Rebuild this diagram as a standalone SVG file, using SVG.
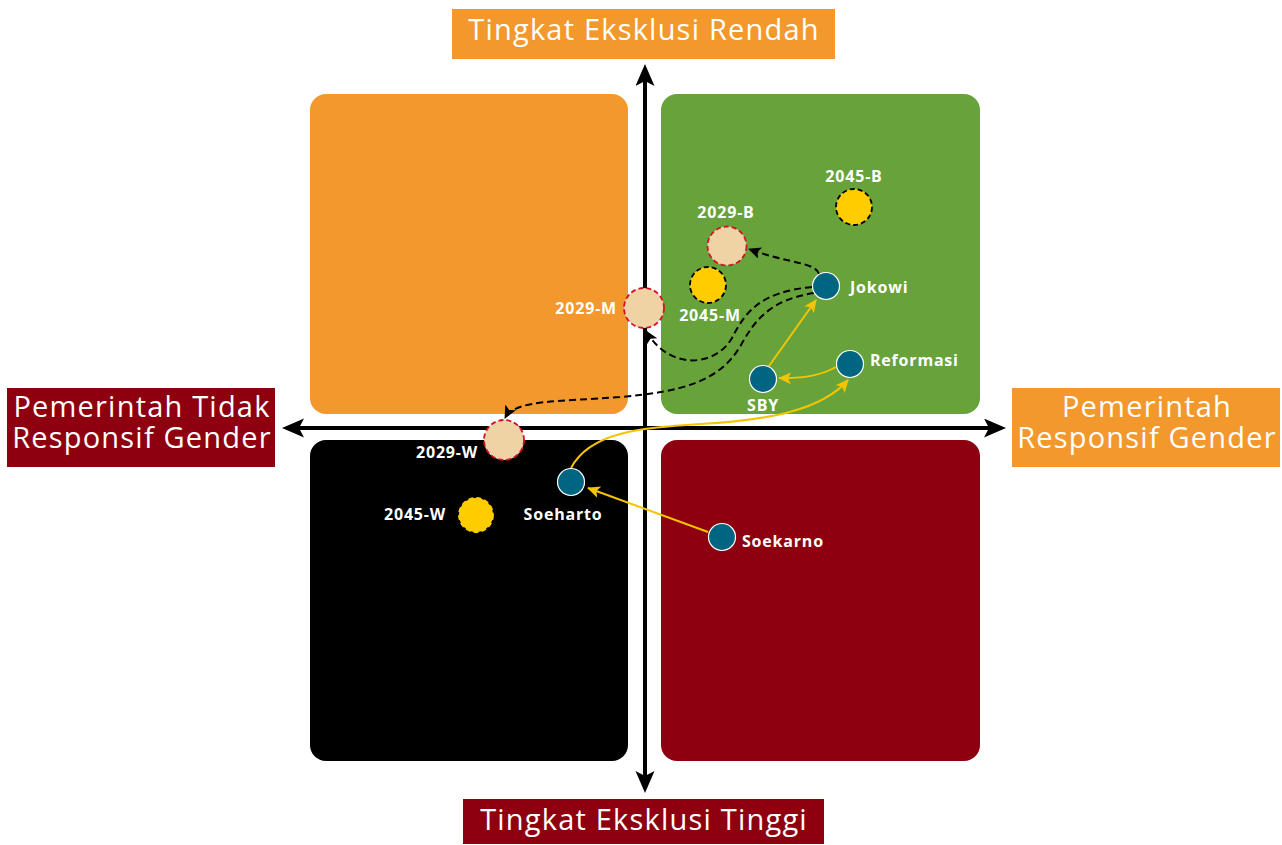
<svg xmlns="http://www.w3.org/2000/svg" width="1282" height="845" viewBox="0 0 1282 845">
<style>
.q{stroke:none}
.axis{stroke:#000;stroke-width:4;fill:none}
.big{font-family:"Open Sans","Liberation Sans",sans-serif;font-size:29px;letter-spacing:1.2px;fill:#fff}
.lbl{font-family:"Open Sans","Liberation Sans",sans-serif;font-size:16px;font-weight:700;letter-spacing:0.8px;fill:#fff}
.now{fill:#006580;stroke:#fff;stroke-width:1.2}
.f29{fill:#F0D3A5;stroke:#D7102A;stroke-width:1.8;stroke-dasharray:5 3}
.f45{fill:#FFCC00;stroke:#000;stroke-width:1.8;stroke-dasharray:5 3}
.yel{stroke:#F5C400;stroke-width:2;fill:none;marker-end:url(#ya)}
.dash{stroke:#000;stroke-width:2;fill:none;stroke-dasharray:7 4;marker-end:url(#ba)}
</style>
<defs>
<marker id="ah" markerUnits="userSpaceOnUse" markerWidth="26" markerHeight="22" refX="6" refY="9.5" orient="auto-start-reverse" viewBox="0 0 26 22">
<path d="M0,0 L22,9.5 L0,19 L5,9.5 z" fill="#000"/>
</marker>
<marker id="ya" markerUnits="userSpaceOnUse" markerWidth="16" markerHeight="14" refX="12" refY="6" orient="auto" viewBox="0 0 16 14">
<path d="M0,0 L13,6 L0,12 L3,6 z" fill="#F5C400"/>
</marker>
<marker id="ba" markerUnits="userSpaceOnUse" markerWidth="16" markerHeight="14" refX="12" refY="6" orient="auto" viewBox="0 0 16 14">
<path d="M0,0 L13,6 L0,12 L3,6 z" fill="#000"/>
</marker>
</defs>
<rect width="1282" height="845" fill="#fff"/>

<g id="quadrants">
<rect id="q-tl" class="q" x="310" y="94" width="318" height="320" rx="16" fill="#F3982C"/>
<rect id="q-tr" class="q" x="661" y="94" width="319" height="320" rx="16" fill="#68A23B"/>
<rect id="q-bl" class="q" x="310" y="440" width="318" height="321" rx="16" fill="#000"/>
<rect id="q-br" class="q" x="661" y="440" width="319" height="321" rx="16" fill="#8E000F"/>
</g>

<g id="axes">
<line class="axis" x1="645" y1="80" x2="645" y2="777" marker-start="url(#ah)" marker-end="url(#ah)"/>
<line class="axis" x1="298" y1="428" x2="990" y2="428" marker-start="url(#ah)" marker-end="url(#ah)"/>
</g>

<g id="label-top">
<rect x="452" y="9" width="383" height="50" fill="#F3982C"/>
<text class="big" x="644" y="40" text-anchor="middle">Tingkat Eksklusi Rendah</text>
</g>
<g id="label-bottom">
<rect x="463" y="799" width="361" height="45" fill="#8E000F"/>
<text class="big" x="644" y="830" text-anchor="middle">Tingkat Eksklusi Tinggi</text>
</g>
<g id="label-left">
<rect x="7" y="388" width="268" height="79" fill="#8E000F"/>
<text class="big" x="142" y="417" text-anchor="middle">Pemerintah Tidak</text>
<text class="big" x="142" y="448" text-anchor="middle">Responsif Gender</text>
</g>
<g id="label-right">
<rect x="1012" y="388" width="268" height="79" fill="#F3982C"/>
<text class="big" x="1147" y="417" text-anchor="middle">Pemerintah</text>
<text class="big" x="1147" y="448" text-anchor="middle">Responsif Gender</text>
</g>

<g id="connectors">
<path class="yel" d="M708,532 L588,488"/>
<path class="yel" d="M571,468 C590,432 640,428 700,424 C770,420 822,410 848,380"/>
<path class="yel" d="M836,367 Q815,379 779,378"/>
<path class="yel" d="M769,366 L816,300"/>
<path class="dash" d="M819,274 C815,262 790,264 749,249"/>
<path class="dash" d="M812,287 C762,292 746,310 732,338 C716,366 670,372 646,331"/>
<path class="dash" d="M814,293 C770,300 755,320 741,345 C720,382 680,392 620,397 C560,402 515,399 505,418"/>
</g>

<g id="node-jokowi"><circle class="now" cx="826" cy="286" r="13.5"/><text class="lbl" x="850" y="293">Jokowi</text></g>
<g id="node-reformasi"><circle class="now" cx="850" cy="364" r="13.5"/><text class="lbl" x="870" y="366">Reformasi</text></g>
<g id="node-sby"><circle class="now" cx="763" cy="379" r="13.5"/><text class="lbl" x="763" y="411" text-anchor="middle">SBY</text></g>
<g id="node-soeharto"><circle class="now" cx="571" cy="482" r="13.5"/><text class="lbl" x="563" y="520" text-anchor="middle">Soeharto</text></g>
<g id="node-soekarno"><circle class="now" cx="722" cy="537" r="13.5"/><text class="lbl" x="742" y="547">Soekarno</text></g>

<g id="node-2029-b"><circle class="f29" cx="727" cy="246" r="19.5"/><text class="lbl" x="726" y="218" text-anchor="middle">2029-B</text></g>
<g id="node-2045-b"><circle class="f45" cx="854" cy="207" r="18"/><text class="lbl" x="854" y="182" text-anchor="middle">2045-B</text></g>
<g id="node-2045-m"><circle class="f45" cx="708" cy="285" r="18"/><text class="lbl" x="710" y="321" text-anchor="middle">2045-M</text></g>
<g id="node-2029-m"><circle class="f29" cx="644" cy="308" r="20"/><text class="lbl" x="617" y="314" text-anchor="end">2029-M</text></g>
<g id="node-2029-w"><circle class="f29" cx="504" cy="440" r="20"/><text class="lbl" x="478" y="458" text-anchor="end">2029-W</text></g>
<g id="node-2045-w"><circle cx="476" cy="515" r="17" fill="#FFCC00" stroke="#FFCC00" stroke-width="1.8" stroke-dasharray="5 3"/><text class="lbl" x="446" y="520" text-anchor="end">2045-W</text></g>
</svg>
